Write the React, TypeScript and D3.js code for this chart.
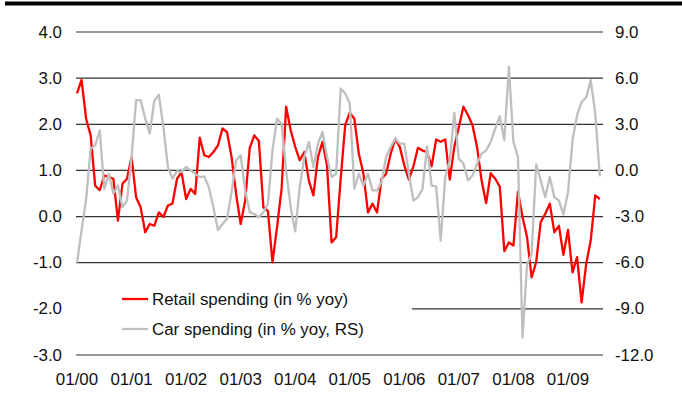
import React from 'react';
import * as d3 from 'd3';

// monthly, Jan 2000 .. Aug 2009
const retail = [
  2.67, 2.96, 2.12, 1.76, 0.67, 0.57, 0.89, 0.86, 0.82, -0.09,
  0.71, 0.82, 1.29, 0.42, 0.20, -0.34, -0.16, -0.20, 0.09, -0.01,
  0.24, 0.28, 0.82, 0.96, 0.38, 0.60, 0.49, 1.71, 1.33, 1.29,
  1.40, 1.54, 1.91, 1.83, 1.29, 0.49, -0.16, 0.35, 1.49, 1.76,
  1.64, 0.20, 0.12, -0.99, -0.23, 0.60, 2.38, 1.87, 1.51, 1.22,
  1.40, 0.78, 0.46, 1.29, 1.62, 1.10, -0.56, -0.45, 0.82, 1.98,
  2.25, 2.12, 1.36, 0.93, 0.09, 0.28, 0.09, 0.82, 0.93, 1.36,
  1.69, 1.51, 1.11, 0.80, 1.09, 1.49, 1.43, 1.40, 1.09, 1.67,
  1.62, 1.67, 0.80, 1.51, 1.94, 2.38, 2.20, 1.98, 1.51, 0.78,
  0.29, 0.94, 0.82, 0.65, -0.75, -0.56, -0.63, 0.54, -0.01, -0.45,
  -1.32, -0.99, -0.12, 0.06, 0.28, -0.34, -0.20, -0.83, -0.29, -1.21,
  -0.88, -1.86, -1.03, -0.52, 0.46, 0.38,
];

const car = [
  -6.0, -3.9, -1.9, 1.41, 1.63, 2.61, -1.2, -0.22, -1.52, -0.98,
  -2.39, -1.96, 0.87, 4.57, 4.57, 3.37, 2.39, 4.52, 4.93, 2.83,
  0.22, -0.54, -0.04, -0.11, 0.22, 0.0, -0.22, -0.43, -0.39, -1.09,
  -2.39, -3.87, -3.48, -3.15, -1.41, 0.65, 0.98, -1.3, -2.72, -2.83,
  -3.04, -2.72, -2.17, 1.30, 3.37, 3.04, 0.0, -2.39, -3.96, -1.09,
  0.87, 1.85, 0.22, 1.74, 2.50, 0.87, -0.43, -0.22, 5.33, 5.0,
  4.35, -1.2, -0.22, -0.98, -0.22, -1.3, -1.3, -0.76, 0.87, 1.52,
  2.07, 1.74, 1.74, -0.22, -1.96, -1.74, -1.2, 1.57, -0.98, -1.04,
  -4.57, -0.43, 0.65, 3.74, 0.76, 0.43, -0.65, -0.33, 0.43, 1.09,
  1.30, 1.85, 2.72, 3.52, 1.96, 6.74, 1.85, 0.87, -10.87, -6.09,
  -5.43, 0.39, -0.65, -1.74, -0.43, -1.74, -1.96, -2.87, -1.41, 1.96,
  3.59, 4.46, 4.74, 5.87, 3.70, -0.39,
];

const yearLabels = ['01/00', '01/01', '01/02', '01/03', '01/04', '01/05', '01/06', '01/07', '01/08', '01/09'];
const leftTicks = [4, 3, 2, 1, 0, -1, -2, -3];
const rightTicks = [9, 6, 3, 0, -3, -6, -9, -12];
const legendItems = [
  { label: 'Retail spending (in % yoy)', color: '#ff0000' },
  { label: 'Car spending (in % yoy, RS)', color: '#bfbfbf' },
];

export default function App() {
  const width = 682;
  const height = 402;
  const font = '"Liberation Sans", Arial, sans-serif';
  const fs = 16.9;

  const x = d3.scaleLinear().domain([0, 115]).range([77, 599.8]);
  const yL = d3.scaleLinear().domain([-3, 4]).range([355, 32]);
  const yR = d3.scaleLinear().domain([-12, 9]).range([355, 32]);

  const lineL = d3.line<number>().x((d, i) => x(i)).y((d) => yL(d));
  const lineR = d3.line<number>().x((d, i) => x(i)).y((d) => yR(d));

  return (
    <div>
      <style>{`body{margin:0}`}</style>
      <svg width={width} height={height} style={{ display: 'block' }}>
        <rect x={5} y={1.5} width={677} height={4} fill="#000" />

        <g>
          {leftTicks.map((t) => (
            <line key={t} x1={76} x2={603} y1={yL(t)} y2={yL(t)} stroke="#333" strokeWidth={1.2} />
          ))}
        </g>

        <g fontFamily={font} fontSize={fs} fill="#111">
          {leftTicks.map((t) => (
            <text key={t} x={62} y={yL(t)} textAnchor="end" dominantBaseline="central">
              {t.toFixed(1)}
            </text>
          ))}
          {rightTicks.map((t) => (
            <text key={t} x={615} y={yR(t)} dominantBaseline="central">
              {t.toFixed(1)}
            </text>
          ))}
          {yearLabels.map((l, k) => (
            <text key={l} x={x(k * 12)} y={385} textAnchor="middle">
              {l}
            </text>
          ))}
        </g>

        {/* legend box hides part of the -2.0 gridline */}
        <rect x={76} y={284} width={336} height={60} fill="#fff" />

        <path d={lineL(retail) || ''} fill="none" stroke="#ff0000" strokeWidth={2.3} strokeLinejoin="round" />
        <path d={lineR(car) || ''} fill="none" stroke="#bfbfbf" strokeWidth={2.3} strokeLinejoin="round" />

        <g fontFamily={font} fontSize={fs} fill="#111">
          {legendItems.map((it, k) => (
            <g key={it.label} transform={`translate(0,${299 + k * 30})`}>
              <line x1={122} x2={148} y1={0} y2={0} stroke={it.color} strokeWidth={2.3} />
              <text x={152} y={0} dominantBaseline="central">
                {it.label}
              </text>
            </g>
          ))}
        </g>
      </svg>
    </div>
  );
}
